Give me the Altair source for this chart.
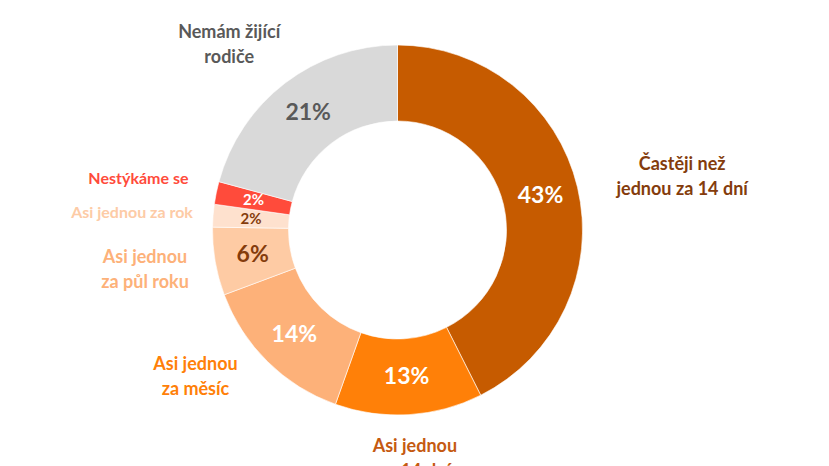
import altair as alt
import numpy as np
import pandas as pd

# ---- data ----
categories = [
    "Častěji než jednou za 14 dní",
    "Asi jednou za 14 dní",
    "Asi jednou za měsíc",
    "Asi jednou za půl roku",
    "Asi jednou za rok",
    "Nestýkáme se",
    "Nemám žijící rodiče",
]
values = [43, 13, 14, 6, 2, 2, 21]
pct_labels = ["43%", "13%", "14%", "6%", "2%", "2%", "21%"]
label_text = [
    "Častěji než\njednou za 14 dní",
    "Asi jednou\nza 14 dní",
    "Asi jednou\nza měsíc",
    "Asi jednou\nza půl roku",
    "Asi jednou za rok",
    "Nestýkáme se",
    "Nemám žijící\nrodiče",
]

# ---- styles ----
slice_colors = ["#C65B00", "#FF8008", "#FDB179", "#FECBA4", "#FEE1CE", "#FF4B3B", "#D9D9D9"]
label_colors = ["#843C0C", "#C55A11", "#FF8008", "#FDB179", "#FDCBA6", "#FF4B3B", "#595959"]
pct_colors = ["#FFFFFF", "#FFFFFF", "#FFFFFF", "#843C0C", "#843C0C", "#FFFFFF", "#595959"]
pct_sizes = [23, 23, 23, 23, 15, 15, 23]
label_sizes = [18, 18, 18, 18, 16, 16, 18]

# ---- layout (first-line anchor relative to slice mid-angle) ----
label_angle_offset = [0.5, -1.0, 11.7, 3.5, -0.8, -0.5, -3.1]  # degrees
label_radius = [292, 218, 243, 254, 266, 264, 259]  # pixels

vals = np.array(values, dtype=float)
total = vals.sum()
start = (np.cumsum(vals) - vals) / total * 360.0
mid = start + vals / total * 180.0
label_theta = np.deg2rad(mid + np.array(label_angle_offset))

df = pd.DataFrame({
    "idx": list(range(len(categories))),
    "category": categories,
    "value": values,
    "pct": pct_labels,
    "label": label_text,
    "slice_color": slice_colors,
    "label_color": label_colors,
    "pct_color": pct_colors,
    "pct_size": pct_sizes,
    "label_size": label_sizes,
    "lt": label_theta,
    "lr": label_radius,
})

base = alt.Chart(df)

arcs = base.mark_arc(innerRadius=109, outerRadius=185, stroke="white", strokeWidth=0.6).encode(
    theta=alt.Theta("value:Q", stack=True),
    order=alt.Order("idx:Q"),
    color=alt.Color("slice_color:N", scale=None),
)

pcts = base.mark_text(radius=147, font="Lato", fontWeight="bold", align="center", baseline="middle").encode(
    theta=alt.Theta("value:Q", stack=True),
    order=alt.Order("idx:Q"),
    text="pct:N",
    color=alt.Color("pct_color:N", scale=None),
    size=alt.Size("pct_size:Q", scale=None),
)

outer = base.mark_text(font="Lato", fontWeight="bold", align="center", baseline="middle",
                       lineBreak="\n", lineHeight=25).encode(
    theta=alt.Theta("lt:Q", scale=None),
    radius=alt.Radius("lr:Q", scale=None),
    text="label:N",
    color=alt.Color("label_color:N", scale=None),
    size=alt.Size("label_size:Q", scale=None),
)

chart = alt.layer(arcs, pcts, outer).resolve_scale(theta="independent").properties(
    width=779, height=444, padding=0
).configure_view(stroke=None)

chart.save("out.html", embed_options={"renderer": "svg", "actions": False})
